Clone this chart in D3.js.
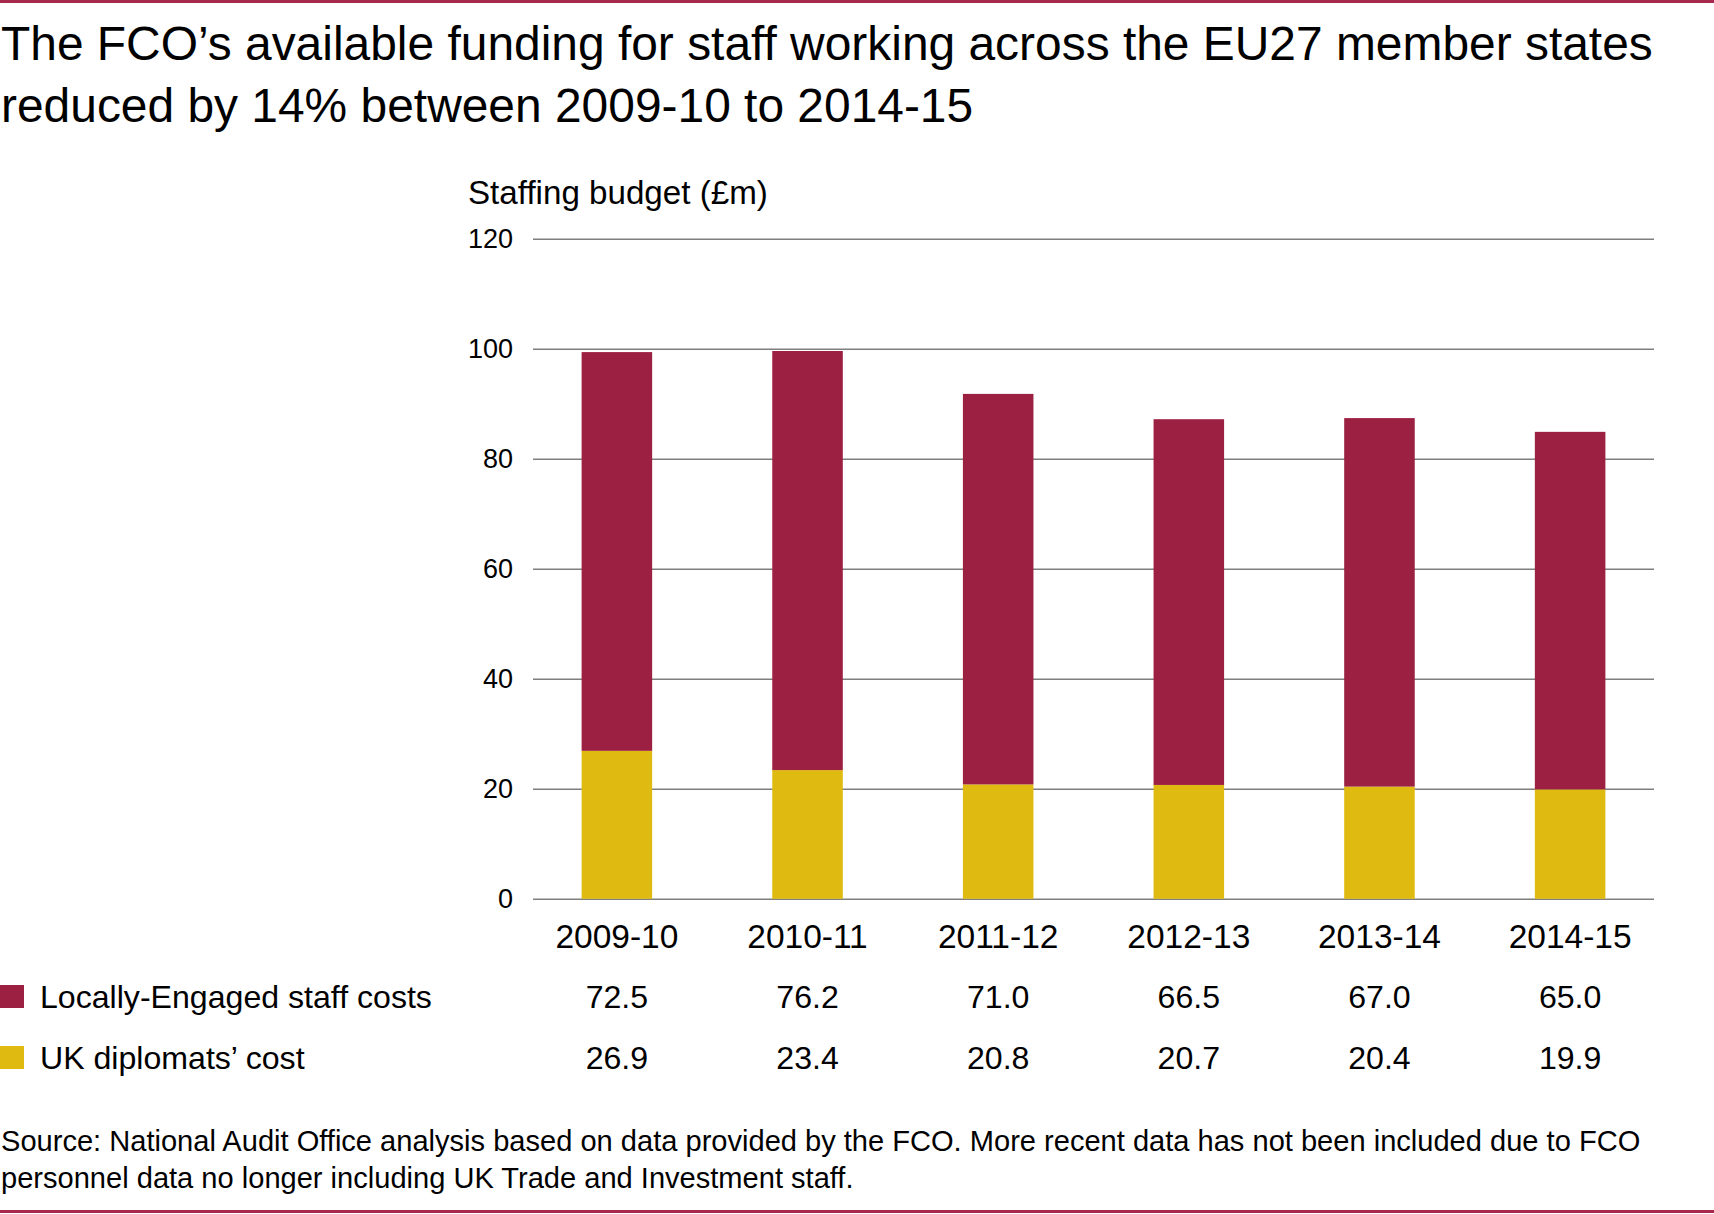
<!DOCTYPE html>
<html>
<head>
<meta charset="utf-8">
<script src="https://cdn.jsdelivr.net/npm/d3@7"></script>
<style>
  html, body { margin: 0; padding: 0; background: #fff; }
  svg { display: block; }
  text { font-family: "Liberation Sans", Arial, Helvetica, sans-serif; fill: #000; }
</style>
</head>
<body>
<svg id="chart" width="1714" height="1214"></svg>
<script>
// ---- Data ----
const categories = ["2009-10", "2010-11", "2011-12", "2012-13", "2013-14", "2014-15"];
const locallyEngaged = [72.5, 76.2, 71.0, 66.5, 67.0, 65.0];
const ukDiplomats = [26.9, 23.4, 20.8, 20.7, 20.4, 19.9];
const seriesNames = ["Locally-Engaged staff costs", "UK diplomats’ cost"];
const yTicks = [0, 20, 40, 60, 80, 100, 120];
const titleLines = [
  "The FCO’s available funding for staff working across the EU27 member states",
  "reduced by 14% between 2009-10 to 2014-15"
];
const yAxisTitle = "Staffing budget (£m)";
const sourceLines = [
  "Source: National Audit Office analysis based on data provided by the FCO. More recent data has not been included due to FCO",
  "personnel data no longer including UK Trade and Investment staff."
];

// ---- Styles ----
const COL_LE = "#9c2042";
const COL_UK = "#dfba10";
const COL_RULE = "#a6294d";
const COL_GRID = "#7f7f7f";

const svg = d3.select("#chart");
const W = 1714, H = 1214;

function fitSize(text, base, target) {
  const t = svg.append("text").attr("font-size", base).text(text);
  const w = t.node().getComputedTextLength();
  t.remove();
  return base * target / w;
}

// top and bottom rules
svg.append("rect").attr("x", 0).attr("y", 0).attr("width", W).attr("height", 3).attr("fill", COL_RULE);
svg.append("rect").attr("x", 0).attr("y", 1210).attr("width", W).attr("height", 3).attr("fill", COL_RULE);

// Title
const titleSize = fitSize(titleLines[0], 40, 1652);
svg.selectAll(".title").data(titleLines).join("text")
  .attr("class", "title")
  .attr("x", 1)
  .attr("y", (d, i) => 60 + i * 62)
  .attr("font-size", titleSize)
  .text(d => d);

// Scales
const plotLeft = 533, plotRight = 1654;
const y = d3.scaleLinear().domain([0, 120]).range([898.8, 238.8]);
const x = d3.scaleBand().domain(categories).range([plotLeft, plotRight])
  .paddingInner(0.63).paddingOuter(0.255);

// y-axis title
svg.append("text").attr("x", 468).attr("y", 204)
  .attr("font-size", fitSize(yAxisTitle, 28, 300))
  .text(yAxisTitle);

// Gridlines + ticks
const yAxis = d3.axisLeft(y).tickValues(yTicks).tickSize(-(plotRight - plotLeft)).tickPadding(20);
const gy = svg.append("g").attr("transform", `translate(${plotLeft},0)`).call(yAxis);
gy.select(".domain").remove();
gy.selectAll(".tick line").attr("stroke", COL_GRID).attr("stroke-width", 1.5);
gy.selectAll(".tick text").attr("font-size", 27).attr("fill", "#000")
  .attr("font-family", "Liberation Sans, Arial, sans-serif");

// Stacked bars
const stackData = categories.map((c, i) => ({ cat: c, uk: ukDiplomats[i], le: locallyEngaged[i] }));
const stack = d3.stack().keys(["uk", "le"])(stackData);
const colors = { uk: COL_UK, le: COL_LE };
svg.append("g").selectAll("g").data(stack).join("g")
  .attr("fill", d => colors[d.key])
  .selectAll("rect").data(d => d).join("rect")
  .attr("x", d => x(d.data.cat))
  .attr("width", x.bandwidth())
  .attr("y", d => y(d[1]))
  .attr("height", d => y(d[0]) - y(d[1]));

// X labels
const xLabelSize = fitSize("2009-10", 30, 123);
svg.selectAll(".xlab").data(categories).join("text")
  .attr("class", "xlab")
  .attr("x", d => x(d) + x.bandwidth() / 2)
  .attr("y", 948)
  .attr("text-anchor", "middle")
  .attr("font-size", xLabelSize)
  .text(d => d);

// Legend / data table
const rows = [
  { name: seriesNames[0], color: COL_LE, values: locallyEngaged, yb: 1008 },
  { name: seriesNames[1], color: COL_UK, values: ukDiplomats, yb: 1069 }
];
const legendSize = fitSize(seriesNames[0], 30, 392);
rows.forEach(r => {
  svg.append("rect").attr("x", 0).attr("y", r.yb - 23).attr("width", 24).attr("height", 23).attr("fill", r.color);
  svg.append("text").attr("x", 40).attr("y", r.yb).attr("font-size", legendSize).text(r.name);
  svg.selectAll(null).data(r.values).join("text")
    .attr("x", (d, i) => x(categories[i]) + x.bandwidth() / 2)
    .attr("y", r.yb)
    .attr("text-anchor", "middle")
    .attr("font-size", legendSize)
    .text(d => d.toFixed(1));
});

// Source
const srcSize = fitSize(sourceLines[0], 24, 1640);
svg.selectAll(".src").data(sourceLines).join("text")
  .attr("class", "src")
  .attr("x", 1)
  .attr("y", (d, i) => 1151 + i * 37)
  .attr("font-size", srcSize)
  .text(d => d);
</script>
</body>
</html>
